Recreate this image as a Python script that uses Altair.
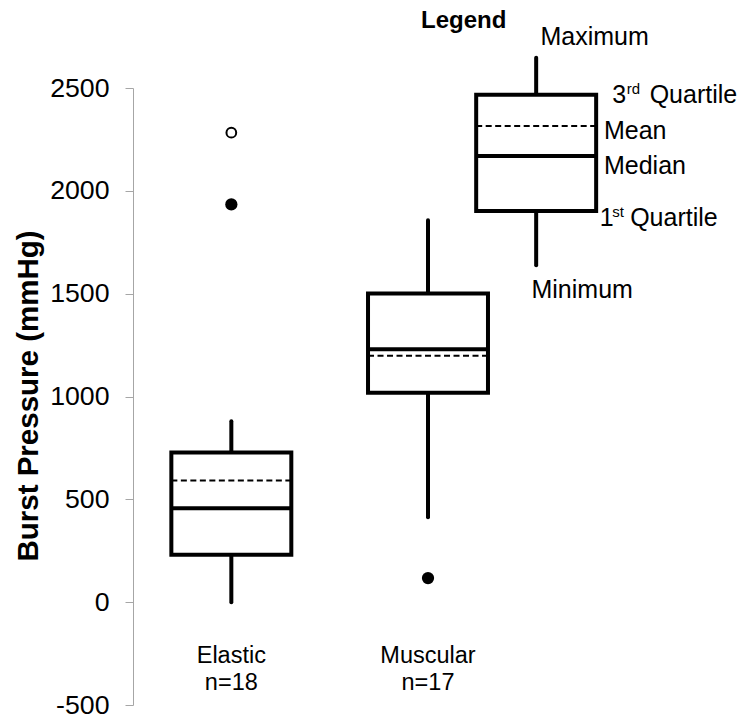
import altair as alt
import pandas as pd

# Burst pressure summary per artery type, plus an illustrative key box
groups = ["Elastic", "Muscular", "Legend"]
group_n = ["n=18", "n=17", ""]
slot = [1.0, 2.0, 2.55]
minimum = [0, 413, 1638]
q1 = [230, 1018, 1902]
median = [457, 1230, 2169]
mean = [591, 1198, 2315]
q3 = [728, 1501, 2467]
maximum = [880, 1857, 2647]

# Outlying measurements
outlier_group = ["Elastic", "Elastic", "Muscular"]
outlier_value = [1934, 2283, 117]
outlier_open = [False, True, False]

y_ticks = [-500, 0, 500, 1000, 1500, 2000, 2500]

FONT = "Liberation Sans"
HALF = 0.305  # half box width in slot units

boxes = pd.DataFrame({
    "group": groups, "slot": slot, "minimum": minimum, "q1": q1,
    "median": median, "mean": mean, "q3": q3, "maximum": maximum,
})
outliers = pd.DataFrame({
    "group": outlier_group,
    "slot": [slot[groups.index(g)] for g in outlier_group],
    "value": outlier_value,
    "open": outlier_open,
})
cats = pd.DataFrame({
    "slot": [s for g, s in zip(groups, slot) if g != "Legend"],
    "label": [f"{g}\n{n}" for g, n in zip(groups, group_n) if g != "Legend"],
})

x_scale = alt.Scale(domain=[0.5, 3.5], nice=False, zero=False)
y_scale = alt.Scale(domain=[-500, 2500], nice=False, zero=False)

y_axis = alt.Axis(
    values=y_ticks, grid=False, labelExpr="'' + datum.value",
    domainColor="#a6a6a6", tickColor="#a6a6a6", domainWidth=1, tickWidth=1,
    tickSize=8, labelFontSize=26.7, labelColor="black", labelPadding=16,
    labelFlush=False, labelOverlap=False,
    title="Burst Pressure (mmHg)", titleFontSize=29.5, titleFontWeight="bold",
    titleColor="black", titleAngle=270, titleX=-96, titleY=307.5,
    titleAlign="center", titleBaseline="alphabetic",
)


def X(field):
    return alt.X(field, scale=x_scale, axis=None)


def Y(field):
    return alt.Y(field, scale=y_scale, axis=y_axis)


base = alt.Chart(boxes).transform_calculate(
    lo=f"datum.slot - {HALF}", hi=f"datum.slot + {HALF}"
)

whisker_hi = base.mark_rule(color="black", strokeWidth=4, strokeCap="round").encode(
    x=X("slot:Q"), y=Y("q3:Q"), y2="maximum:Q"
)
whisker_lo = base.mark_rule(color="black", strokeWidth=4, strokeCap="round").encode(
    x=X("slot:Q"), y=Y("minimum:Q"), y2="q1:Q"
)
box = base.mark_rect(fill="white", stroke="black", strokeWidth=4).encode(
    x=X("lo:Q"), x2="hi:Q", y=Y("q1:Q"), y2="q3:Q"
)
median_line = base.mark_rule(color="black", strokeWidth=4).encode(
    x=X("lo:Q"), x2="hi:Q", y=Y("median:Q")
)
mean_line = base.mark_rule(color="black", strokeWidth=2, strokeDash=[6, 3.5]).encode(
    x=X("lo:Q"), x2="hi:Q", y=Y("mean:Q")
)

filled_pts = alt.Chart(outliers).transform_filter("!datum.open").mark_point(
    filled=True, color="black", size=150, opacity=1
).encode(x=X("slot:Q"), y=Y("value:Q"))
open_pts = alt.Chart(outliers).transform_filter("datum.open").mark_point(
    filled=False, color="black", fill="white", size=95, strokeWidth=2, opacity=1
).encode(x=X("slot:Q"), y=Y("value:Q"))

cat_labels = alt.Chart(cats).mark_text(
    fontSize=23.5, color="black", align="center", baseline="alphabetic",
    lineBreak="\n", lineHeight=27,
).encode(x=X("slot:Q"), y=alt.value(575), text="label:N")

# Key annotations, anchored to the key box statistics
k = groups.index("Legend")


def note(text, value, dx, dy, size=25, align="left", weight="normal"):
    df = pd.DataFrame({"slot": [slot[k]], "v": [value]})
    return alt.Chart(df).mark_text(
        text=text, dx=dx, dy=dy, fontSize=size, align=align,
        baseline="alphabetic", fontWeight=weight, color="black",
    ).encode(x=X("slot:Q"), y=Y("v:Q"))


notes = [
    note("Legend", maximum[k], -72.5, -29.3, size=24, align="center", weight="bold"),
    note("Maximum", maximum[k], 58.5, -12.3, align="center"),
    note("3", q3[k], 76, 8),
    note("rd", q3[k], 90.5, -1, size=15),
    note("Quartile", q3[k], 113.5, 8),
    note("Mean", mean[k], 67.8, 13.3),
    note("Median", median[k], 67.8, 18.3),
    note("1", q1[k], 63.5, 15),
    note("st", q1[k], 76, 6, size=15),
    note("Quartile", q1[k], 94, 15),
    note("Minimum", minimum[k], 46, 32.7, align="center"),
]

chart = alt.layer(
    whisker_hi, whisker_lo, box, median_line, mean_line,
    filled_pts, open_pts, cat_labels, *notes,
).properties(
    width=590, height=617,
    autosize=alt.AutoSizeParams(type="none"),
    padding={"left": 133, "top": 88, "right": 21, "bottom": 15},
).configure(
    font=FONT
).configure_view(
    stroke="transparent", strokeWidth=0
)

chart.save("out.html", embed_options={"renderer": "svg", "actions": False})
